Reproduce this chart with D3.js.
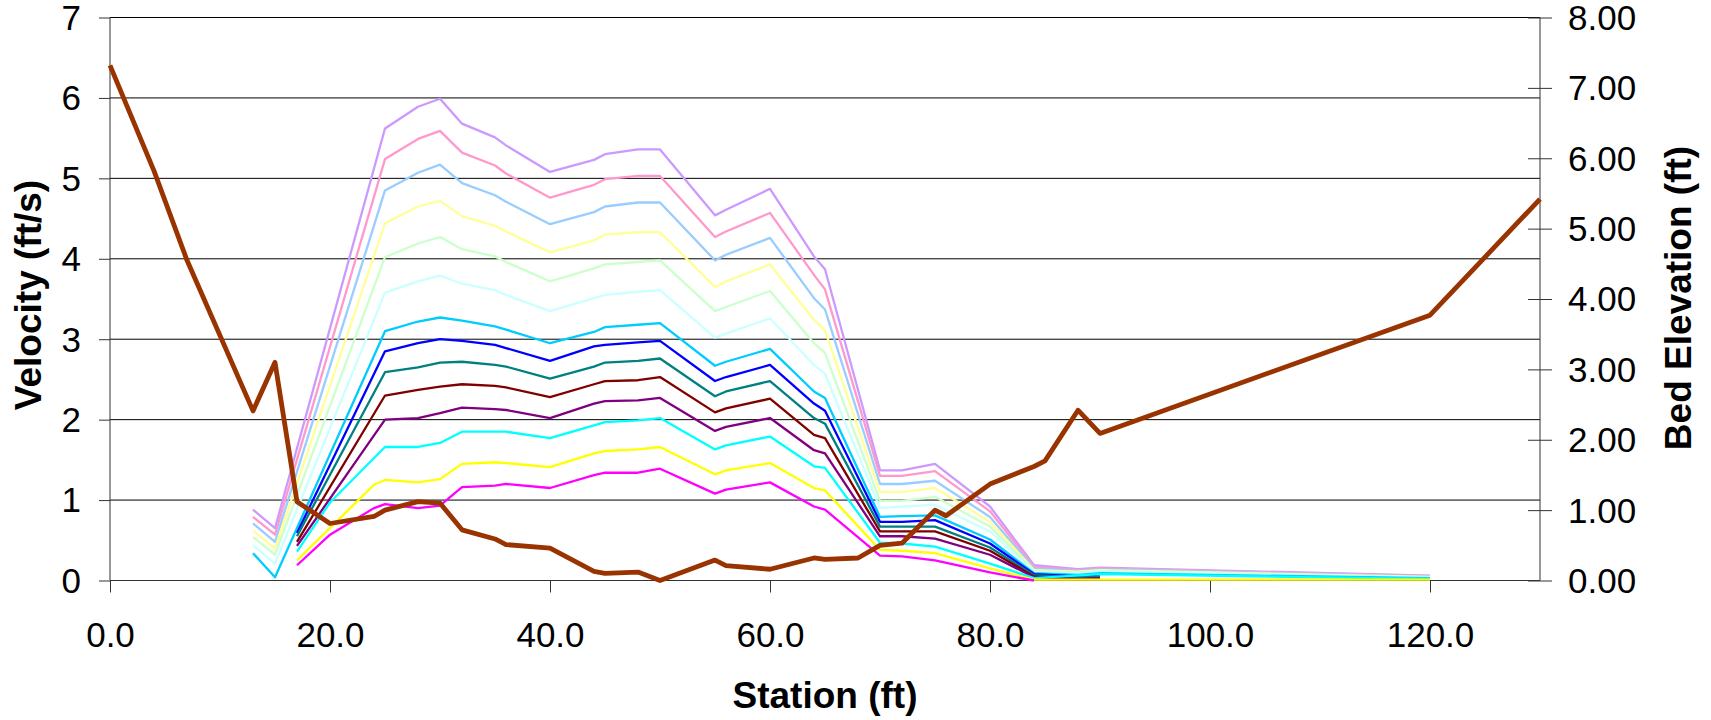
<!DOCTYPE html>
<html>
<head>
<meta charset="utf-8">
<script src="https://cdn.jsdelivr.net/npm/d3@7"></script>
<style>
html,body{margin:0;padding:0;background:#fff;}
svg{display:block;}
text{font-family:"Liberation Sans",Arial,sans-serif;fill:#000;}
</style>
</head>
<body>
<svg id="chart" width="1711" height="720"></svg>
<script>
// ---- data ----
const velStations = [13,15,17,20,24,25,28,30,32,35,36,40,44,45,48,50,55,56,60,64,65,70,72,75,80,84,88,90,120];
const seriesNames = ["lavender","pink","lightblue","lightyellow","lightgreen","lightcyan","deepsky","blue","teal","darkred","purple","cyan","yellow","magenta"];
const seriesColors = ["#CC99FF","#FF99CC","#99CCFF","#FFFF99","#CCFFCC","#CCFFFF","#00CCFF","#0000FF","#008080","#800000","#800080","#00FFFF","#FFFF00","#FF00FF"];
const vLavender = [0.88,0.65,null,null,null,5.62,5.89,5.99,5.68,5.51,5.41,5.08,5.23,5.30,5.36,5.36,4.54,4.61,4.87,4.03,3.87,1.37,1.37,1.45,0.92,0.19,0.14,0.16,0.06];
const vPink = [0.79,0.57,null,null,null,5.24,5.49,5.59,5.32,5.16,5.06,4.76,4.92,4.99,5.03,5.03,4.27,4.34,4.57,3.80,3.62,1.30,1.30,1.36,0.86,0.17,0.13,0.15,0.055];
const vLightBlue = [0.71,0.48,null,null,null,4.85,5.07,5.17,4.94,4.79,4.71,4.43,4.58,4.65,4.70,4.70,3.98,4.05,4.26,3.51,3.37,1.20,1.20,1.24,0.79,0.15,0.12,0.14,0.05];
const vLightYellow = [0.62,0.40,null,null,null,4.44,4.65,4.72,4.53,4.41,4.34,4.08,4.23,4.30,4.33,4.33,3.65,3.72,3.93,3.24,3.11,1.10,1.10,1.15,0.73,0.13,0.11,0.13,0.045];
const vLightGreen = [0.54,0.32,null,null,null,4.02,4.19,4.27,4.12,4.03,3.96,3.72,3.88,3.93,3.96,3.98,3.35,3.40,3.60,2.95,2.83,0.99,0.99,1.04,0.67,0.12,0.10,0.12,0.04];
const vLightCyan = [0.44,0.21,null,null,null,3.58,3.72,3.79,3.69,3.61,3.55,3.35,3.51,3.55,3.59,3.61,3.02,3.07,3.26,2.68,2.57,0.90,0.92,0.94,0.61,0.10,0.09,0.11,0.035];
const vDeepSky = [0.34,0.04,null,null,null,3.10,3.22,3.27,3.23,3.16,3.12,2.95,3.09,3.15,3.18,3.20,2.67,2.72,2.88,2.35,2.27,0.79,0.80,0.81,0.51,0.09,0.07,0.09,0.03];
const vBlue = [null,null,0.59,null,null,2.85,2.95,3.00,2.98,2.93,2.89,2.73,2.91,2.93,2.96,2.98,2.48,2.53,2.68,2.20,2.11,0.73,0.73,0.75,0.46,0.08,0.05,0.06,null];
const vTeal = [null,null,0.55,null,null,2.59,2.65,2.71,2.72,2.68,2.66,2.51,2.66,2.71,2.73,2.76,2.29,2.35,2.48,2.02,1.95,0.67,0.67,0.67,0.41,0.065,0.04,0.05,null];
const vDarkRed = [null,null,0.48,null,null,2.30,2.37,2.41,2.44,2.42,2.40,2.28,2.44,2.48,2.49,2.53,2.09,2.14,2.26,1.81,1.77,0.61,0.61,0.61,0.37,0.05,0.01,0.03,null];
const vPurple = [null,null,0.43,null,null,2.00,2.02,2.08,2.15,2.13,2.12,2.02,2.20,2.23,2.24,2.27,1.86,1.91,2.02,1.62,1.58,0.55,0.55,0.52,0.32,0.04,0.02,0.03,null];
const vCyan = [null,null,0.36,0.97,null,1.66,1.66,1.71,1.85,1.85,1.85,1.77,1.93,1.97,1.99,2.02,1.63,1.68,1.79,1.42,1.40,0.47,0.46,0.42,0.21,0.03,null,0.08,0.02];
const vYellow = [null,null,0.25,null,1.19,1.25,1.22,1.26,1.45,1.47,1.46,1.41,1.58,1.61,1.63,1.66,1.32,1.37,1.46,1.15,1.12,0.38,0.37,0.34,0.15,0.01,null,null,0.01];
const vMagenta = [null,null,0.19,0.57,0.90,0.95,0.90,0.93,1.16,1.18,1.20,1.15,1.31,1.34,1.34,1.39,1.08,1.13,1.22,0.92,0.88,0.31,0.30,0.25,0.10,0.0,null,null,null];

const bedStations = [0,4,7,13,15,17,20,24,25,28,30,32,35,36,40,44,45,48,50,55,56,60,64,65,68,70,72,75,76,80,84,85,88,90,120,130];
const bedElevation = [7.32,5.82,4.55,2.41,3.10,1.12,0.81,0.91,1.00,1.12,1.10,0.72,0.59,0.51,0.46,0.13,0.10,0.12,0.00,0.29,0.21,0.16,0.32,0.30,0.32,0.50,0.53,1.00,0.92,1.37,1.62,1.70,2.42,2.09,3.77,5.42];

const xTicks = [0,20,40,60,80,100,120];
const yLeftTicks = [0,1,2,3,4,5,6,7];
const yRightTicks = [0,1,2,3,4,5,6,7,8];

const velSeries = [vLavender,vPink,vLightBlue,vLightYellow,vLightGreen,vLightCyan,vDeepSky,vBlue,vTeal,vDarkRed,vPurple,vCyan,vYellow,vMagenta];

// ---- layout ----
const L = 110, R = 1540, T = 17.5, B = 580.5;
const svg = d3.select("#chart");
const x = d3.scaleLinear().domain([0,130]).range([L,R]);
const yL = d3.scaleLinear().domain([0,7]).range([B,T]);
const yR = d3.scaleLinear().domain([0,8]).range([B,T]);

// gridlines
svg.append("g").selectAll("line").data(yLeftTicks.filter(d=>d>0)).join("line")
  .attr("x1",L).attr("x2",R).attr("y1",d=>yL(d)).attr("y2",d=>yL(d))
  .attr("stroke","#000").attr("stroke-width",1);

const fs = 35;
// left axis
const gL = svg.append("g").attr("transform",`translate(${L},0)`)
  .call(d3.axisLeft(yL).tickValues(yLeftTicks).tickFormat(d3.format("d")).tickSize(11).tickPadding(18));
// right axis
const gR = svg.append("g").attr("transform",`translate(${R},0)`)
  .call(d3.axisRight(yR).tickValues(yRightTicks).tickFormat(d3.format(".2f")).tickSize(12).tickPadding(16));
gR.selectAll(".tick line").attr("x1",-12);
// bottom axis
const gB = svg.append("g").attr("transform",`translate(0,${B})`)
  .call(d3.axisBottom(x).tickValues(xTicks).tickFormat(d3.format(".1f")).tickSize(12).tickPadding(30));

[gL,gR,gB].forEach(g=>{
  g.select(".domain").remove();
  g.selectAll(".tick line").attr("stroke","#333").attr("stroke-width",1);
  g.selectAll(".tick text").style("font-size",fs+"px").style("font-family","'Liberation Sans',Arial,sans-serif").attr("fill","#000");
});
gB.selectAll(".tick text").attr("dy","0.71em");
gL.selectAll(".tick text").attr("dy","0.34em");
gR.selectAll(".tick text").attr("dy","0.34em");

// axis lines
svg.append("line").attr("x1",L).attr("x2",L).attr("y1",T).attr("y2",B).attr("stroke","#333");
svg.append("line").attr("x1",R).attr("x2",R).attr("y1",T).attr("y2",B).attr("stroke","#333");
svg.append("line").attr("x1",L).attr("x2",R).attr("y1",B).attr("y2",B).attr("stroke","#333");

// velocity lines
const line = d3.line().x(d=>x(d[0])).y(d=>yL(d[1]));
velSeries.forEach((vals,i)=>{
  const pts = velStations.map((s,j)=>[s,vals[j]]).filter(p=>p[1]!==null);
  svg.append("path").datum(pts).attr("d",line)
    .attr("fill","none").attr("stroke",seriesColors[i]).attr("stroke-width",2.3)
    .attr("stroke-linejoin","round");
});

// bed elevation
const bedLine = d3.line().x(d=>x(d[0])).y(d=>yR(d[1]));
svg.append("path").datum(bedStations.map((s,j)=>[s,bedElevation[j]])).attr("d",bedLine)
  .attr("fill","none").attr("stroke","#993300").attr("stroke-width",4.8).attr("stroke-linejoin","round");

// titles
const tfs = 37;
svg.append("text").attr("x",(L+R)/2).attr("y",708).attr("text-anchor","middle")
  .style("font-size",tfs+"px").style("font-weight","bold").text("Station (ft)");
svg.append("text").attr("transform","translate(41,295) rotate(-90)").attr("text-anchor","middle")
  .style("font-size",tfs+"px").style("font-weight","bold").text("Velocity (ft/s)");
svg.append("text").attr("transform","translate(1691,298) rotate(-90)").attr("text-anchor","middle")
  .style("font-size",tfs+"px").style("font-weight","bold").text("Bed Elevation (ft)");
</script>
</body>
</html>
